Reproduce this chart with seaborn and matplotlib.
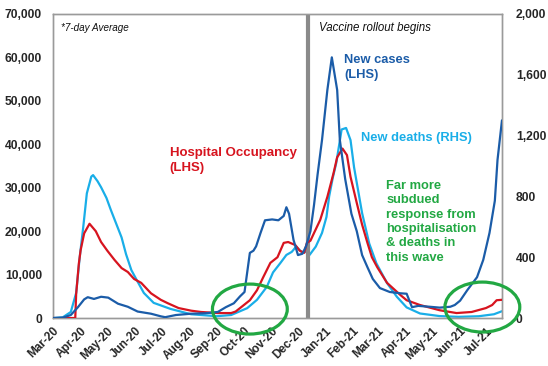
import matplotlib
matplotlib.use("Agg")
import matplotlib.pyplot as plt
import matplotlib.dates as mdates
from matplotlib.patches import Ellipse
import seaborn as sns
import pandas as pd
import numpy as np

# ---- data ----
cases_dates = ["2020-03-01","2020-03-12","2020-03-21","2020-03-29","2020-04-05","2020-04-09","2020-04-16",
               "2020-04-24","2020-05-02","2020-05-13","2020-05-24","2020-06-04","2020-06-19","2020-06-30",
               "2020-07-05","2020-07-17","2020-08-03","2020-08-19","2020-09-02","2020-09-11","2020-09-20",
               "2020-09-27","2020-10-02","2020-10-04","2020-10-08","2020-10-12","2020-10-15","2020-10-20",
               "2020-10-25","2020-11-02","2020-11-09","2020-11-15","2020-11-18","2020-11-21","2020-11-26",
               "2020-12-01","2020-12-06","2020-12-10","2020-12-15","2020-12-19","2020-12-23","2020-12-28",
               "2021-01-03","2021-01-08","2021-01-14","2021-01-17","2021-01-23","2021-01-30","2021-02-05",
               "2021-02-11","2021-02-17","2021-02-23","2021-03-03","2021-03-14","2021-03-26","2021-04-02",
               "2021-04-08","2021-04-15","2021-04-28","2021-05-09","2021-05-21","2021-05-26","2021-06-01",
               "2021-06-09","2021-06-20","2021-06-27","2021-07-04","2021-07-10","2021-07-13","2021-07-18"]
cases_values = [0, 100, 700, 2500, 4300, 4800, 4400,
                4900, 4700, 3300, 2600, 1500, 1000, 400,
                200, 700, 1000, 1100, 1400, 2500, 3400,
                5000, 6000, 9000, 15000, 15500, 16500, 19600,
                22500, 22700, 22500, 23500, 25500, 24000, 18000,
                14500, 14800, 16500, 20000, 26000, 33000, 41000,
                52500, 60000, 52500, 41000, 32000, 24000, 20000,
                14500, 11700, 9000, 6900, 6000, 5700, 5600,
                2500, 2800, 2600, 2400, 2600, 3000, 4000,
                6400, 9400, 13400, 19600, 27000, 36400, 45500]

hosp_dates = ["2020-03-01","2020-03-26","2020-03-27","2020-03-30","2020-04-01","2020-04-05","2020-04-11",
              "2020-04-18","2020-04-24","2020-05-01","2020-05-09","2020-05-17","2020-05-24","2020-05-31",
              "2020-06-08","2020-06-19","2020-06-30","2020-07-08","2020-07-20","2020-08-03","2020-08-14",
              "2020-09-02","2020-09-17","2020-09-22","2020-09-27","2020-10-08","2020-10-16","2020-10-23",
              "2020-10-31","2020-11-08","2020-11-15","2020-11-20","2020-11-28","2020-12-03","2020-12-08",
              "2020-12-11","2020-12-15","2020-12-20","2020-12-26","2021-01-03","2021-01-10","2021-01-14",
              "2021-01-20","2021-01-25","2021-01-29","2021-02-05","2021-02-11","2021-02-17","2021-02-22",
              "2021-02-28","2021-03-11","2021-03-26","2021-04-02","2021-04-17","2021-05-09","2021-05-28",
              "2021-06-14","2021-06-30","2021-07-07","2021-07-12","2021-07-18"]
hosp_values = [0, 0, 5500, 12500, 15600, 19500, 21700,
               20000, 17500, 15500, 13400, 11500, 10600, 9000,
               8100, 5700, 4200, 3400, 2300, 1700, 1400,
               1150, 1150, 1500, 2300, 4100, 6400, 9400,
               12700, 14000, 17300, 17500, 16800, 15500, 15000,
               17300, 17800, 20000, 22600, 27900, 33400, 37000,
               39000, 37500, 32500, 26500, 21500, 17300, 14000,
               11700, 8100, 5300, 4100, 3000, 1800, 1150,
               1400, 2300, 3000, 4100, 4200]

deaths_dates = ["2020-03-01","2020-03-12","2020-03-21","2020-03-27","2020-03-31","2020-04-04","2020-04-08",
                "2020-04-13","2020-04-15","2020-04-20","2020-04-24","2020-04-30","2020-05-05","2020-05-11",
                "2020-05-17","2020-05-22","2020-05-28","2020-06-03","2020-06-11","2020-06-22","2020-07-11",
                "2020-08-03","2020-09-01","2020-09-17","2020-09-27","2020-10-05","2020-10-16","2020-10-27",
                "2020-11-03","2020-11-11","2020-11-18","2020-11-24","2020-11-29","2020-12-05","2020-12-10",
                "2020-12-14","2020-12-21","2020-12-28","2021-01-02","2021-01-05","2021-01-09","2021-01-13",
                "2021-01-19","2021-01-24","2021-01-29","2021-02-02","2021-02-05","2021-02-11","2021-02-19",
                "2021-02-27","2021-03-11","2021-03-22","2021-04-02","2021-04-17","2021-05-09","2021-05-30",
                "2021-06-22","2021-07-09","2021-07-18"]
deaths_values = [0, 5, 40, 165, 400, 600, 820,
                 930, 940, 900, 860, 790, 710, 620,
                 530, 420, 315, 250, 165, 100, 60,
                 25, 12, 20, 45, 65, 120, 205,
                 300, 360, 415, 435, 470, 435, 435,
                 415, 470, 560, 665, 800, 920, 1020,
                 1240, 1250, 1170, 990, 890, 690, 490,
                 360, 230, 140, 70, 30, 13, 8,
                 12, 25, 45]

left_ticks = [0, 10000, 20000, 30000, 40000, 50000, 60000, 70000]
right_ticks = [0, 400, 800, 1200, 1600, 2000]
vaccine_date = "2020-12-12"

# ---- styling ----
sns.set_style("white")
plt.rcParams['font.family'] = ['Liberation Sans', 'DejaVu Sans']

C_CASES = "#1b5ca8"
C_HOSP = "#d7141f"
C_DEATHS = "#19aee8"
C_GREEN = "#22a843"

df_cases = pd.DataFrame({"date": pd.to_datetime(cases_dates), "value": cases_values})
df_hosp = pd.DataFrame({"date": pd.to_datetime(hosp_dates), "value": hosp_values})
df_deaths = pd.DataFrame({"date": pd.to_datetime(deaths_dates), "value": deaths_values})

fig = plt.figure(figsize=(5.48, 3.66), dpi=100)
ax = fig.add_axes([0.0967, 0.131, 0.8193, 0.831])
ax2 = ax.twinx()

sns.lineplot(data=df_deaths, x="date", y="value", ax=ax2, color=C_DEATHS, linewidth=1.6, zorder=2)
sns.lineplot(data=df_hosp, x="date", y="value", ax=ax, color=C_HOSP, linewidth=1.6, zorder=3)
sns.lineplot(data=df_cases, x="date", y="value", ax=ax, color=C_CASES, linewidth=1.6, zorder=4)

ax.set_zorder(ax2.get_zorder() + 1)
ax.patch.set_visible(False)

xmin, xmax = pd.Timestamp("2020-03-01"), pd.Timestamp("2021-07-18")
ax.set_xlim(xmin, xmax)
ax.set_ylim(0, 70000)
ax2.set_ylim(0, 2000)

ax.set_yticks(left_ticks)
ax.set_yticklabels([f"{v:,}" for v in left_ticks], fontsize=8.7, fontweight="bold")
ax2.set_yticks(right_ticks)
ax2.set_yticklabels([f"{v:,}" for v in right_ticks], fontsize=8.7, fontweight="bold")
ax.tick_params(axis="y", length=0, pad=8)
ax2.tick_params(axis="y", length=0, pad=10)

ax.xaxis.set_major_locator(mdates.MonthLocator())
ax.xaxis.set_major_formatter(mdates.DateFormatter("%b-%y"))
ax.tick_params(axis="x", length=3, width=0.8, color="#999999", pad=2, direction="out")
for lbl in ax.get_xticklabels():
    lbl.set_rotation(45)
    lbl.set_ha("right")
    lbl.set_rotation_mode("anchor")
    lbl.set_fontsize(8.5)
    lbl.set_fontweight("bold")

ax.set_xlabel("")
ax.set_ylabel("")
ax2.set_ylabel("")
for a in (ax, ax2):
    for s in a.spines.values():
        s.set_color("#9a9a9a")
        s.set_linewidth(1.0)

# vaccine line
ax.axvline(pd.Timestamp(vaccine_date), color="#8a8a8a", linewidth=3, zorder=1)

# text annotations (axes fraction coordinates)
ax.text(0.017, 0.955, "*7-day Average", transform=ax.transAxes, fontsize=7.1, style="italic",
        va="center", ha="left", color="#111111")
ax.text(0.592, 0.955, "Vaccine rollout begins", transform=ax.transAxes, fontsize=8.3, style="italic",
        va="center", ha="left", color="#111111")
ax.text(0.648, 0.868, "New cases\n(LHS)", transform=ax.transAxes, fontsize=9.3, fontweight="bold",
        color=C_CASES, va="top", ha="left", linespacing=1.3)
ax.text(0.686, 0.592, "New deaths (RHS)", transform=ax.transAxes, fontsize=9.3, fontweight="bold",
        color=C_DEATHS, va="center", ha="left")
ax.text(0.26, 0.562, "Hospital Occupancy\n(LHS)", transform=ax.transAxes, fontsize=9.5, fontweight="bold",
        color=C_HOSP, va="top", ha="left", linespacing=1.3)
ax.text(0.742, 0.455, "Far more\nsubdued\nresponse from\nhospitalisation\n& deaths in\nthis wave",
        transform=ax.transAxes, fontsize=9.3, fontweight="bold", color=C_GREEN, va="top",
        ha="left", linespacing=1.27)

# ellipses in data coordinates
e1 = Ellipse((mdates.date2num(pd.Timestamp("2020-10-08")), 2070), width=84, height=11500,
             fill=False, edgecolor=C_GREEN, linewidth=2.3, clip_on=False, zorder=6)
e2 = Ellipse((mdates.date2num(pd.Timestamp("2021-06-26")), 2530), width=84, height=11500,
             fill=False, edgecolor=C_GREEN, linewidth=2.3, clip_on=False, zorder=6)
ax.add_patch(e1)
ax.add_patch(e2)

fig.savefig("out.png", dpi=100)
